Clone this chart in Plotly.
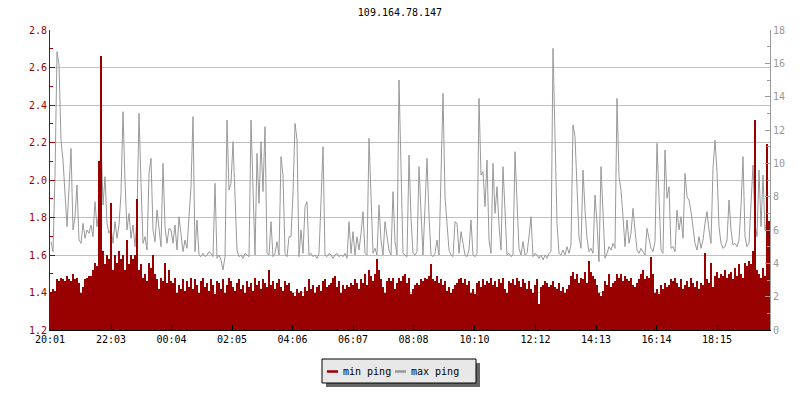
import datetime as dt
import plotly.graph_objects as go

title_text = "109.164.78.147"
start_time = "2024-01-01 20:01"
sample_minutes = 4
span_minutes = 1440
tick_labels = ["20:01", "22:03", "00:04", "02:05", "04:06", "06:07",
               "08:08", "10:10", "12:12", "14:13", "16:14", "18:15"]
left_ticks = [1.2, 1.4, 1.6, 1.8, 2.0, 2.2, 2.4, 2.6, 2.8]
right_ticks = [0, 2, 4, 6, 8, 10, 12, 14, 16, 18]

min_ping = [
    1.40, 1.42, 1.41, 1.47, 1.46, 1.48, 1.47, 1.46, 1.49, 1.47,
    1.46, 1.50, 1.47, 1.48, 1.45, 1.40, 1.43, 1.47, 1.48, 1.49,
    1.49, 1.52, 1.56, 1.54, 2.10, 2.66, 1.62, 1.55, 1.60, 1.58,
    1.88, 1.52, 1.60, 1.56, 1.62, 1.58, 1.60, 1.52, 1.68, 1.55,
    1.60, 1.58, 1.60, 1.90, 1.52, 1.55, 1.48, 1.50, 1.46, 1.56,
    1.53, 1.60, 1.50, 1.47, 1.42, 1.48, 1.46, 1.56, 1.45, 1.52,
    1.46, 1.45, 1.48, 1.40, 1.44, 1.42, 1.47, 1.41, 1.46, 1.43,
    1.48, 1.42, 1.47, 1.44, 1.40, 1.46, 1.48, 1.43, 1.45, 1.41,
    1.47, 1.44, 1.39, 1.46, 1.45, 1.42, 1.47, 1.40, 1.44, 1.48,
    1.46, 1.43, 1.41, 1.45, 1.47, 1.42, 1.44, 1.40, 1.46, 1.43,
    1.45, 1.41, 1.48, 1.44, 1.46, 1.42, 1.47, 1.45, 1.43, 1.52,
    1.44, 1.46, 1.42, 1.45, 1.47, 1.43, 1.41, 1.46, 1.44, 1.45,
    1.41, 1.40, 1.38, 1.42, 1.40, 1.41, 1.38, 1.43, 1.41, 1.47,
    1.42, 1.44, 1.40, 1.43, 1.44, 1.41, 1.46, 1.47, 1.43, 1.44,
    1.45, 1.48, 1.49, 1.43, 1.46, 1.40, 1.44, 1.42, 1.44, 1.43,
    1.45, 1.44, 1.47, 1.45, 1.42, 1.47, 1.45, 1.50, 1.44, 1.52,
    1.49, 1.46, 1.50, 1.58, 1.52, 1.47, 1.43, 1.40, 1.46, 1.48,
    1.46, 1.48, 1.42, 1.45, 1.48, 1.46, 1.49, 1.50, 1.45, 1.48,
    1.39, 1.42, 1.44, 1.45, 1.44, 1.47, 1.46, 1.48, 1.47, 1.49,
    1.55, 1.47, 1.46, 1.49, 1.45, 1.47, 1.44, 1.46, 1.41, 1.43,
    1.40, 1.42, 1.44, 1.45, 1.47, 1.48, 1.45, 1.47, 1.44, 1.46,
    1.40, 1.42, 1.39, 1.45, 1.46, 1.43, 1.47, 1.44, 1.46, 1.45,
    1.48, 1.44, 1.46, 1.43, 1.47, 1.45, 1.48, 1.42, 1.40, 1.46,
    1.45, 1.47, 1.44, 1.48, 1.46, 1.43, 1.47, 1.45, 1.42, 1.46,
    1.42, 1.40, 1.44, 1.47, 1.34, 1.43, 1.44, 1.46, 1.45, 1.43,
    1.44, 1.46, 1.43, 1.42, 1.45, 1.41, 1.43, 1.40, 1.42, 1.44,
    1.49, 1.51, 1.47, 1.50, 1.45, 1.48, 1.47, 1.51, 1.45, 1.57,
    1.51, 1.49, 1.47, 1.44, 1.40, 1.38, 1.41, 1.46, 1.44, 1.50,
    1.43, 1.45, 1.46, 1.50, 1.48, 1.50, 1.46, 1.49, 1.47, 1.46,
    1.48, 1.44, 1.43, 1.45, 1.47, 1.50, 1.52, 1.47, 1.49, 1.48,
    1.59, 1.50, 1.40, 1.42, 1.39, 1.44, 1.42, 1.45, 1.43, 1.44,
    1.47, 1.46, 1.48, 1.45, 1.43, 1.47, 1.42, 1.44, 1.46, 1.43,
    1.48, 1.45, 1.43, 1.46, 1.42, 1.45, 1.44, 1.61, 1.47, 1.45,
    1.56, 1.43, 1.49, 1.51, 1.48, 1.50, 1.49, 1.52, 1.48, 1.50,
    1.51, 1.47, 1.53, 1.49, 1.55, 1.50, 1.48, 1.56, 1.54, 1.57,
    1.55, 1.62, 2.32, 1.52, 1.50, 1.48, 1.53, 1.49, 2.19, 1.78,
]

max_ping = [
    5.3, 4.7, 9.3, 16.7, 15.9, 11.4, 10.2, 8.0, 6.2, 8.5,
    10.9, 6.0, 6.8, 8.7, 5.4, 5.2, 6.4, 5.5, 6.0, 5.8,
    6.3, 5.6, 7.7, 6.2, 7.1, 11.6, 7.5, 9.2, 6.4, 5.8,
    6.1, 5.2, 6.5, 5.5, 6.3, 8.2, 13.1, 8.9, 6.0, 7.0,
    5.5, 6.3, 5.0, 6.8, 13.0, 8.8, 5.2, 5.6, 4.8, 9.4,
    10.3, 6.0, 5.3, 7.2, 6.0, 5.0, 10.0, 6.2, 5.2, 6.1,
    6.0, 5.2, 6.3, 4.8, 6.8, 5.9, 4.7, 5.4, 4.9, 6.8,
    8.6, 12.8, 4.7, 6.6, 4.5, 4.4, 4.6, 4.4, 4.5, 4.7,
    4.6, 4.4, 8.8, 4.3, 4.5, 4.2, 3.6, 4.4, 12.6, 8.4,
    8.8, 11.3, 8.0, 4.8, 4.4, 4.5, 4.3, 4.6, 4.5, 4.4,
    12.6, 8.4, 4.5, 10.6, 7.6, 11.3, 8.3, 12.2, 4.6, 4.5,
    6.5, 4.4, 4.6, 5.3, 4.5, 10.4, 9.3, 4.6, 4.4, 5.6,
    5.6, 8.2, 12.4, 11.4, 4.4, 6.0, 4.6, 7.4, 7.7, 4.5,
    4.6, 4.4, 4.5, 4.3, 4.6, 7.7, 11.0, 4.5, 4.4, 4.6,
    4.5, 4.3, 4.5, 4.6, 4.4, 4.5, 4.4, 4.6, 4.3, 6.5,
    4.6, 5.9, 4.5, 5.6, 4.8, 5.8, 7.1, 4.6, 4.5, 11.5,
    8.5, 4.6, 4.9, 4.5, 7.5, 5.4, 4.5, 6.5, 5.6, 4.8,
    4.5, 8.3, 5.3, 4.5, 15.0, 10.0, 4.6, 4.5, 4.4, 10.5,
    6.7, 4.6, 4.5, 4.7, 9.8, 7.1, 4.5, 7.4, 10.3, 6.9,
    4.5, 4.4, 4.6, 5.4, 4.5, 9.3, 14.2, 8.0, 6.3, 4.8,
    4.5, 4.4, 6.5, 6.4, 4.6, 5.9, 5.2, 4.5, 4.4, 4.8,
    6.6, 4.5, 4.4, 4.6, 13.9, 9.3, 9.5, 7.4, 10.2, 5.4,
    4.6, 10.0, 7.0, 8.6, 6.3, 4.8, 9.8, 7.2, 4.5, 4.6,
    4.4, 4.5, 10.7, 7.7, 4.9, 4.5, 5.3, 4.5, 4.6, 5.6,
    6.8, 4.4, 4.6, 4.5, 4.3, 4.5, 4.2, 4.5, 4.3, 4.6,
    4.7, 16.9, 11.7, 6.4, 4.6, 4.5, 4.8, 4.5, 5.0, 4.6,
    5.1, 12.3, 11.6, 8.4, 5.6, 4.9, 9.6, 7.2, 5.5, 4.7,
    4.9, 4.6, 8.1, 6.4, 4.1, 9.8, 7.1, 4.3, 4.6, 5.0,
    4.8, 5.2, 4.9, 13.9, 9.2, 8.4, 6.8, 5.0, 6.6, 5.2,
    5.8, 7.3, 6.0, 4.8, 4.6, 4.9, 4.7, 4.5, 6.1, 5.4,
    4.9, 4.7, 5.3, 11.2, 7.9, 4.8, 4.6, 10.8, 7.9, 8.6,
    4.9, 5.0, 4.7, 7.2, 6.0, 6.8, 5.5, 9.4, 8.0, 7.8,
    7.1, 6.0, 5.2, 4.8, 5.6, 4.9, 5.4, 6.4, 7.1, 6.0,
    5.2, 9.7, 11.4, 9.5, 6.2, 5.2, 4.9, 5.0, 5.4, 7.8,
    6.0, 5.1, 5.2, 5.0, 5.4, 7.4, 10.4, 5.6, 5.0, 5.2,
    7.6, 9.9, 6.4, 5.6, 9.6, 6.2, 9.3, 6.0, 6.6, 5.4,
]

RED = "#990000"
GRAY = "#999999"
FONT = "DejaVu Sans Mono"

t0 = dt.datetime.strptime(start_time, "%Y-%m-%d %H:%M")
times = [t0 + dt.timedelta(minutes=sample_minutes * i + sample_minutes / 2)
         for i in range(len(min_ping))]
times2 = [t0 + dt.timedelta(minutes=sample_minutes * i + sample_minutes / 2)
          for i in range(len(max_ping))]
t_end = t0 + dt.timedelta(minutes=span_minutes)

# tick positions from the tick labels (rolling over midnight)
tickvals = []
day = t0.date()
prev = None
for lab in tick_labels:
    h, m = map(int, lab.split(":"))
    if prev is not None and (h, m) < prev:
        day = day + dt.timedelta(days=1)
    prev = (h, m)
    tickvals.append(dt.datetime(day.year, day.month, day.day, h, m))

fig = go.Figure()
fig.add_trace(go.Bar(x=times, y=min_ping, yaxis="y2", name="min ping",
                     marker=dict(color=RED, line=dict(width=0)),
                     showlegend=False, hoverinfo="x+y"))
fig.add_trace(go.Scatter(x=times2, y=max_ping, yaxis="y", name="max ping",
                         mode="lines", line=dict(color=GRAY, width=1),
                         showlegend=False))

# The page body has an 8px default margin; the figure is sized so that
# the plot area lands at window pixels x 50..770, y 30..330.
OFF = 8
W, H = 800 - OFF, 400 - OFF
L, R, T, B = 50 - OFF, 770 - OFF, 30 - OFF, 330 - OFF


def px(x):
    # window x pixel -> paper coordinate
    return (x - OFF - L) / (R - L)


def py(y):
    # window y pixel -> paper coordinate
    return (B - (y - OFF)) / (B - T)


shapes = [
    dict(type="rect", xref="paper", yref="paper", x0=px(326), x1=px(480),
         y0=py(387), y1=py(363), fillcolor="#666666", line=dict(width=0), layer="above"),
    dict(type="rect", xref="paper", yref="paper", x0=px(322), x1=px(476),
         y0=py(383), y1=py(359), fillcolor="#e8e8e8",
         line=dict(color="black", width=1), layer="above"),
    dict(type="line", xref="paper", yref="paper", x0=px(327), x1=px(338),
         y0=py(371.5), y1=py(371.5), line=dict(color=RED, width=2.5), layer="above"),
    dict(type="line", xref="paper", yref="paper", x0=px(395), x1=px(406),
         y0=py(371.5), y1=py(371.5), line=dict(color=GRAY, width=2.5), layer="above"),
]
annotations = [
    dict(text="min ping", xref="paper", yref="paper", x=px(341), y=py(371),
         xanchor="left", yanchor="middle", showarrow=False,
         font=dict(family=FONT, size=10, color="black")),
    dict(text="max ping", xref="paper", yref="paper", x=px(409), y=py(371),
         xanchor="left", yanchor="middle", showarrow=False,
         font=dict(family=FONT, size=10, color="black")),
]

fig.update_layout(
    width=W, height=H,
    margin=dict(l=L, r=W - R, t=T, b=H - B, pad=0),
    paper_bgcolor="white", plot_bgcolor="white",
    bargap=0,
    showlegend=False,
    font=dict(family=FONT, size=10, color="black"),
    title=dict(text=title_text, x=(400 - OFF) / W, xref="container", xanchor="center",
               y=1 - (12 - OFF) / H, yref="container", yanchor="middle",
               font=dict(family=FONT, size=10, color="black")),
    xaxis=dict(type="date", range=[t0, t_end], tickvals=tickvals, ticktext=tick_labels,
               showgrid=False, showline=True, linecolor="black", linewidth=1,
               ticks="inside", ticklen=5, tickcolor="black", zeroline=False,
               tickfont=dict(family=FONT, size=10, color="black")),
    yaxis=dict(range=[0, 18], side="right", tickvals=right_ticks,
               showgrid=False, zeroline=False, showline=True, linecolor=GRAY, linewidth=1,
               ticks="inside", ticklen=5, tickcolor=GRAY,
               minor=dict(dtick=1, ticks="inside", ticklen=3, tickcolor=GRAY, showgrid=False),
               tickfont=dict(family=FONT, size=10, color=GRAY)),
    yaxis2=dict(range=[1.2, 2.8], side="left", overlaying="y", tickvals=left_ticks,
                tickformat=".1f", showgrid=True, gridcolor="#c0c0c0", gridwidth=1,
                zeroline=False, showline=True, linecolor=RED, linewidth=1,
                ticks="inside", ticklen=5, tickcolor=RED,
                minor=dict(dtick=0.1, ticks="inside", ticklen=3, tickcolor=RED, showgrid=False),
                tickfont=dict(family=FONT, size=10, color=RED)),
    shapes=shapes,
    annotations=annotations,
)

fig.write_html("out.html")
